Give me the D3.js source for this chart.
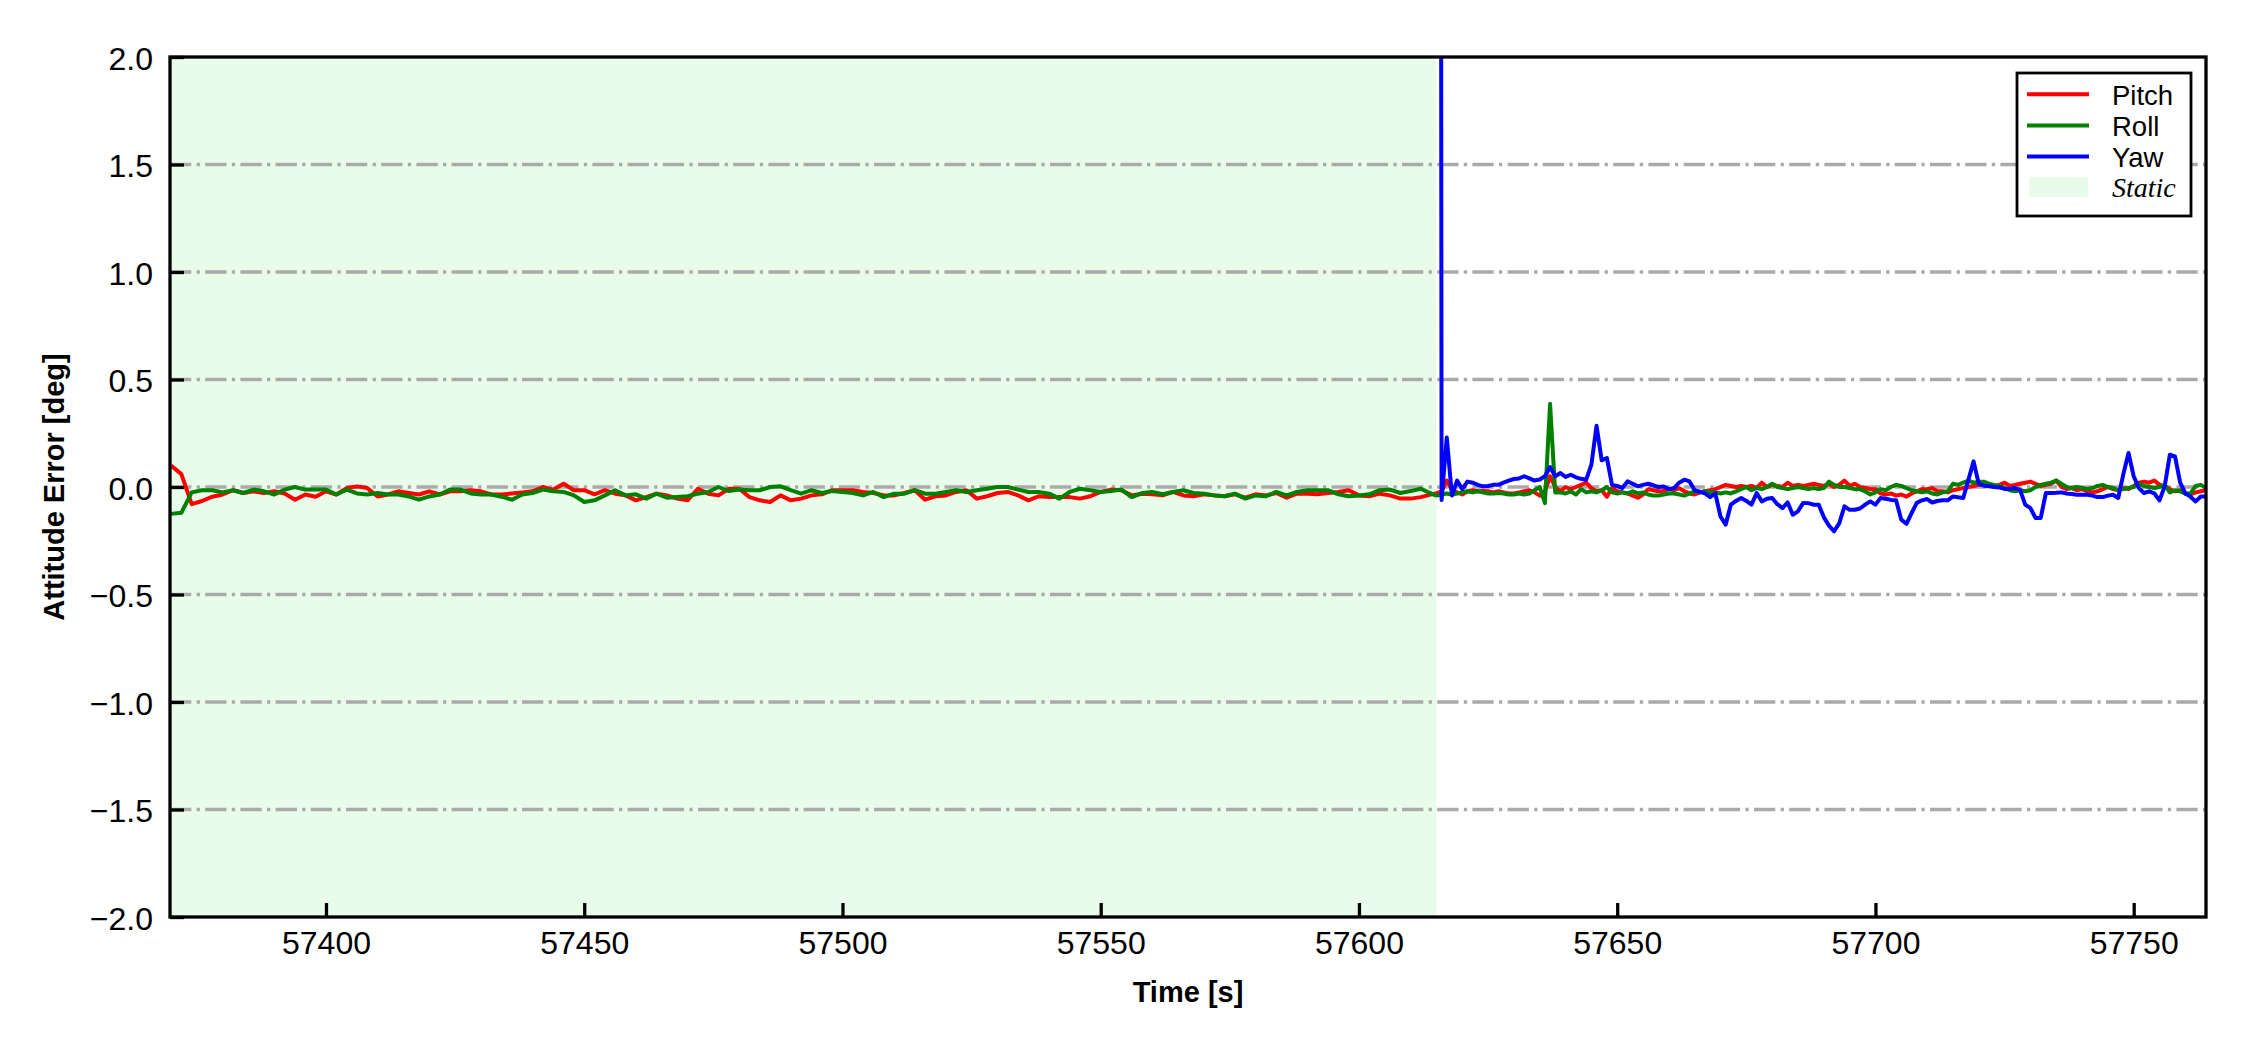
<!DOCTYPE html>
<html>
<head>
<meta charset="utf-8">
<script src="https://cdn.jsdelivr.net/npm/d3@7"></script>
<style>
  body { margin: 0; background: #fff; }
  svg { display: block; font-family: "Liberation Sans", Arial, sans-serif; }
</style>
</head>
<body>
<svg id="chart" width="2250" height="1050"></svg>
<script>
// sampling: 2 s during the static part, 1 s after it
const staticStart = 57370, staticEnd = 57615, lastTime = 57764;

const staticPitch = [
  0.1, 0.06, -0.08, -0.065, -0.045, -0.035, -0.015, -0.028, -0.02, -0.028,
  -0.02, -0.03, -0.059, -0.035, -0.045, -0.02, -0.035, -0.005, 0.003, -0.005,
  -0.044, -0.035, -0.02, -0.028, -0.035, -0.02, -0.035, -0.02, -0.02, -0.015,
  -0.02, -0.035, -0.035, -0.03, -0.025, -0.02, 0.0, -0.012, 0.015, -0.015,
  -0.015, -0.034, -0.015, -0.031, -0.039, -0.062, -0.047, -0.031, -0.039, -0.054,
  -0.062, -0.008, -0.031, -0.039, -0.008, -0.008, -0.047, -0.062, -0.07, -0.039,
  -0.062, -0.054, -0.039, -0.034, -0.015, -0.015, -0.015, -0.023, -0.028, -0.039,
  -0.039, -0.028, -0.015, -0.059, -0.043, -0.039, -0.023, -0.015, -0.054, -0.043,
  -0.028, -0.023, -0.039, -0.062, -0.043, -0.047, -0.047, -0.047, -0.054, -0.043,
  -0.023, -0.012, -0.015, -0.039, -0.031, -0.034, -0.039, -0.023, -0.039, -0.043,
  -0.034, -0.039, -0.043, -0.034, -0.05, -0.034, -0.039, -0.028, -0.05, -0.031,
  -0.031, -0.034, -0.028, -0.023, -0.015, -0.039, -0.043, -0.031, -0.039, -0.054,
  -0.054, -0.047, -0.034
];
const staticRoll = [
  -0.125, -0.12, -0.025, -0.015, -0.015, -0.025, -0.015, -0.028, -0.012, -0.02,
  -0.035, -0.012, 0.0, -0.012, -0.012, -0.012, -0.035, -0.012, -0.03, -0.035,
  -0.028, -0.035, -0.035, -0.044, -0.059, -0.044, -0.035, -0.012, -0.012, -0.03,
  -0.035, -0.035, -0.045, -0.059, -0.035, -0.028, -0.012, -0.02, -0.023, -0.039,
  -0.07, -0.062, -0.039, -0.015, -0.039, -0.034, -0.054, -0.031, -0.05, -0.047,
  -0.043, -0.031, -0.023, 0.0, -0.019, -0.012, -0.015, -0.015, 0.0, 0.003,
  -0.015, -0.031, -0.015, -0.028, -0.019, -0.023, -0.028, -0.039, -0.023, -0.047,
  -0.031, -0.031, -0.015, -0.031, -0.031, -0.023, -0.015, -0.023, -0.015, -0.008,
  0.0, 0.0, -0.012, -0.023, -0.023, -0.031, -0.054, -0.023, -0.008, -0.015,
  -0.023, -0.019, -0.012, -0.047, -0.028, -0.023, -0.034, -0.023, -0.015, -0.028,
  -0.031, -0.039, -0.043, -0.031, -0.054, -0.039, -0.043, -0.023, -0.039, -0.023,
  -0.015, -0.015, -0.015, -0.034, -0.043, -0.039, -0.034, -0.015, -0.012, -0.028,
  -0.019, -0.008, -0.031
];

const dynPitch = [
  -0.03, -0.02, 0.03, -0.01, -0.025, -0.035, -0.02, -0.015, -0.02, -0.018,
  -0.02, -0.025, -0.02, -0.025, -0.03, -0.03, -0.025, -0.02, -0.015, -0.025,
  -0.04, -0.02, 0.05, 0.0, -0.02, 0.0, -0.01, 0.0, 0.01, 0.02,
  -0.005, -0.02, -0.015, -0.045, -0.005, -0.02, -0.025, -0.03, -0.04, -0.05,
  -0.035, -0.01, -0.015, -0.02, -0.018, -0.01, -0.015, -0.005, -0.02, -0.03,
  -0.035, -0.025, -0.02, -0.015, -0.01, 0.0, 0.01, 0.005, 0.0, 0.005,
  0.0, 0.005, -0.005, 0.02, 0.0, 0.01, 0.005, 0.0, 0.02, 0.005,
  0.01, 0.005, 0.01, 0.015, 0.01, 0.005, 0.015, 0.0, 0.01, 0.03,
  0.005, 0.015, 0.0, -0.005, -0.01, -0.01, -0.03, -0.035, -0.03, -0.04,
  -0.035, -0.045, -0.03, -0.02, -0.01, -0.01, -0.005, -0.02, -0.02, -0.025,
  -0.015, -0.01, -0.005, 0.0, 0.005, 0.01, 0.015, 0.01, 0.005, 0.01,
  0.02, 0.005, 0.01, 0.015, 0.02, 0.025, 0.015, 0.005, 0.01, 0.015,
  0.03, 0.0, -0.01, -0.005, -0.015, -0.01, -0.02, -0.025, -0.02, -0.01,
  0.0, -0.01, -0.015, -0.005, -0.01, 0.005, 0.02, 0.025, 0.02, 0.03,
  0.01, 0.005, -0.01, -0.02, -0.015, -0.03, -0.035, -0.025, -0.02, -0.015
];
const dynRoll = [
  -0.04, -0.035, -0.03, -0.035, -0.03, -0.025, -0.02, -0.025, -0.02, -0.025,
  -0.03, -0.03, -0.028, -0.03, -0.035, -0.035, -0.03, -0.035, -0.03, -0.015,
  0.0, -0.075, 0.387, -0.025, -0.025, -0.03, -0.02, -0.035, -0.01, -0.025,
  -0.02, -0.025, -0.015, 0.0, -0.025, -0.03, -0.025, -0.03, -0.02, -0.03,
  -0.025, -0.035, -0.04, -0.04, -0.035, -0.03, -0.03, -0.035, -0.04, -0.03,
  -0.02, -0.025, -0.02, -0.025, -0.025, -0.03, -0.025, -0.03, -0.02, -0.01,
  0.0, -0.015, -0.005, -0.01, 0.0, 0.015, 0.0, -0.005, -0.01, -0.005,
  0.0, -0.005, -0.01, -0.005, -0.01, -0.005, 0.025, 0.01, 0.0, 0.0,
  -0.005, -0.01, -0.01, -0.02, -0.035, -0.025, -0.01, -0.015, 0.0, 0.01,
  0.005, -0.005, -0.015, -0.02, -0.025, -0.02, -0.03, -0.035, -0.025, -0.02,
  0.015, 0.01, 0.02, 0.03, 0.02, 0.025, 0.025, 0.015, 0.01, 0.005,
  -0.005, -0.015, -0.02, -0.015, -0.02, -0.015, 0.0, 0.01, 0.015, 0.02,
  0.03, 0.015, 0.0, -0.005, 0.0, -0.005, -0.01, -0.005, 0.005, 0.01,
  0.0, -0.005, -0.015, -0.01, -0.005, 0.0, 0.015, 0.005, 0.0, -0.005,
  0.0, 0.01, -0.025, -0.015, -0.02, -0.03, -0.03, 0.005, 0.01, -0.005
];
// yaw only exists after the static phase, first sample is far off scale
const dynYaw = [
  25, -0.06, 0.23, -0.04, 0.03, -0.01, 0.025, 0.02, 0.01, 0.003,
  0.005, 0.01, 0.01, 0.02, 0.03, 0.037, 0.04, 0.05, 0.04, 0.03,
  0.035, 0.05, 0.093, 0.05, 0.065, 0.047, 0.057, 0.045, 0.038, 0.034,
  0.104, 0.285, 0.124, 0.135, 0.01, 0.005, -0.005, 0.026, 0.015, 0.003,
  0.01, 0.015, 0.008, 0.0, 0.002, -0.01, -0.005, 0.02, 0.034, 0.026,
  -0.015, -0.022, -0.03, -0.047, -0.03, -0.137, -0.175, -0.082, -0.065, -0.051,
  -0.065, -0.082, -0.028, -0.067, -0.055, -0.051, -0.08, -0.098, -0.072, -0.129,
  -0.113, -0.074, -0.075, -0.082, -0.082, -0.14, -0.18, -0.206, -0.168, -0.09,
  -0.106, -0.106, -0.1, -0.082, -0.067, -0.082, -0.051, -0.055, -0.06, -0.062,
  -0.152, -0.171, -0.121, -0.074, -0.062, -0.056, -0.072, -0.065, -0.062, -0.062,
  -0.044, -0.048, -0.051, 0.034, 0.119, 0.015, 0.006, 0.003, 0.0, -0.002,
  -0.009, -0.008, -0.005, -0.013, -0.082, -0.098, -0.144, -0.144, -0.028, -0.028,
  -0.027, -0.025, -0.03, -0.033, -0.036, -0.036, -0.036, -0.04, -0.047, -0.047,
  -0.04, -0.036, -0.051, 0.06, 0.158, 0.05, -0.005, -0.028, -0.02, -0.03,
  -0.062, 0.003, 0.15, 0.142, 0.02, -0.03, -0.045, -0.067, -0.044, -0.044
];

const yTicks = [-2.0, -1.5, -1.0, -0.5, 0.0, 0.5, 1.0, 1.5, 2.0];
const xTicks = [57400, 57450, 57500, 57550, 57600, 57650, 57700, 57750];
const gridVals = [-1.5, -1.0, -0.5, 0.0, 0.5, 1.0, 1.5];
const seriesNames = ["Pitch", "Roll", "Yaw"];
const seriesColors = ["#ff0000", "#008000", "#0000ff"];
const staticColor = "#e9fce9";

const staticTimes = d3.range(staticStart, staticEnd, 2);
const dynTimes = d3.range(staticEnd, lastTime + 1, 1);

const pLeft = 170, pRight = 2206, pTop = 57, pBottom = 917;
const svg = d3.select("#chart");

const x = d3.scaleLinear().domain([57369.8, 57764]).range([pLeft, pRight]);
const y = d3.scaleLinear().domain([-2, 2]).range([pBottom, pTop]);

svg.append("defs").append("clipPath").attr("id", "clip")
  .append("rect").attr("x", pLeft).attr("y", pTop)
  .attr("width", pRight - pLeft).attr("height", pBottom - pTop);

// static span
svg.append("rect")
  .attr("x", x(staticStart)).attr("y", pTop)
  .attr("width", x(staticEnd) - x(staticStart)).attr("height", pBottom - pTop)
  .attr("fill", staticColor);

// grid
svg.append("g").selectAll("line").data(gridVals).enter().append("line")
  .attr("x1", pLeft).attr("x2", pRight)
  .attr("y1", d => y(d)).attr("y2", d => y(d))
  .attr("stroke", "#aaaaaa").attr("stroke-width", 3.3)
  .attr("stroke-dasharray", "21.3,5.3,3.3,5.3");

const pitch = staticTimes.map((t, i) => [t, staticPitch[i]])
  .concat(dynTimes.map((t, i) => [t, dynPitch[i]]));
const roll = staticTimes.map((t, i) => [t, staticRoll[i]])
  .concat(dynTimes.map((t, i) => [t, dynRoll[i]]));
const yaw = dynTimes.map((t, i) => [t, dynYaw[i]]);

const line = d3.line().x(d => x(d[0])).y(d => y(d[1]));
const plot = svg.append("g").attr("clip-path", "url(#clip)");
[pitch, roll, yaw].forEach((s, i) => {
  plot.append("path").datum(s)
    .attr("d", line)
    .attr("fill", "none")
    .attr("stroke", seriesColors[i])
    .attr("stroke-width", 4)
    .attr("stroke-linejoin", "round");
});

// axes, ticks pointing inwards
const yAxis = svg.append("g").attr("transform", `translate(${pLeft},0)`)
  .call(d3.axisLeft(y).tickValues(yTicks).tickFormat(d3.format(".1f"))
    .tickSize(-14).tickPadding(17));
const xAxis = svg.append("g").attr("transform", `translate(0,${pBottom})`)
  .call(d3.axisBottom(x).tickValues(xTicks).tickFormat(d3.format("d"))
    .tickSize(-14).tickPadding(14));
[yAxis, xAxis].forEach(a => {
  a.select(".domain").remove();
  a.selectAll("line").attr("stroke", "#000").attr("stroke-width", 3.3);
  a.selectAll("text").attr("fill", "#000").attr("font-size", 32)
    .attr("font-family", "Liberation Sans, Arial, sans-serif");
});
yAxis.selectAll("text").attr("dy", "0.375em");

svg.append("rect")
  .attr("x", pLeft).attr("y", pTop)
  .attr("width", pRight - pLeft).attr("height", pBottom - pTop)
  .attr("fill", "none").attr("stroke", "#000").attr("stroke-width", 3.3);

svg.append("text")
  .attr("x", (pLeft + pRight) / 2).attr("y", 1002)
  .attr("text-anchor", "middle").attr("font-size", 29).attr("font-weight", "bold")
  .text("Time [s]");
svg.append("text")
  .attr("transform", `translate(64,${(pTop + pBottom) / 2}) rotate(-90)`)
  .attr("text-anchor", "middle").attr("font-size", 29).attr("font-weight", "bold")
  .text("Attitude Error [deg]");

// legend
const lg = svg.append("g");
lg.append("rect").attr("x", 2017).attr("y", 73).attr("width", 174).attr("height", 143)
  .attr("fill", "#fff").attr("stroke", "#000").attr("stroke-width", 2.8);
const rowY = [94.3, 125.5, 156.5, 187];
seriesNames.forEach((name, i) => {
  lg.append("line").attr("x1", 2027).attr("x2", 2089)
    .attr("y1", rowY[i]).attr("y2", rowY[i])
    .attr("stroke", seriesColors[i]).attr("stroke-width", 4);
  lg.append("text").attr("x", 2112).attr("y", rowY[i] + 10.5)
    .attr("font-size", 27.5).text(name);
});
lg.append("rect").attr("x", 2029).attr("y", 177).attr("width", 59).attr("height", 20)
  .attr("fill", staticColor);
lg.append("text").attr("x", 2112).attr("y", 197.3)
  .attr("font-size", 28).attr("font-style", "italic")
  .attr("font-family", "Liberation Serif, Times New Roman, serif")
  .text("Static");
</script>
</body>
</html>
